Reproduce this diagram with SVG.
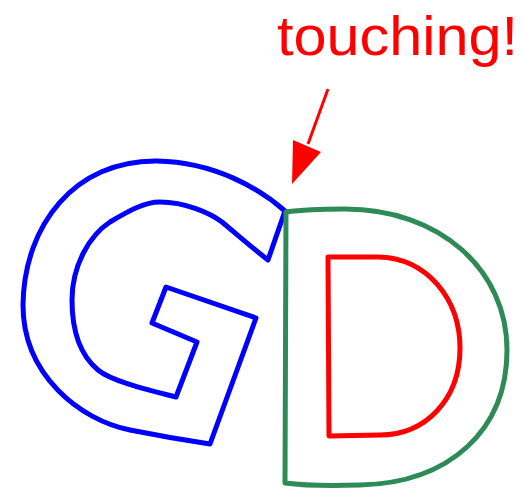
<svg xmlns="http://www.w3.org/2000/svg" width="524" height="489" viewBox="0 0 524 489">
<style>
.o{fill:none;stroke-width:5;stroke-linejoin:round;stroke-linecap:round}
.t{font-family:"Liberation Sans","DejaVu Sans",sans-serif;font-size:56px;fill:#ff0000}
</style>
<rect width="524" height="489" fill="#fff"/>
<g id="G">
<path class="o" stroke="#0000ff" d="M285,211 C260,189 215,162 157,161 C75,160 24,225 23,305 C23,375 80,420 130,430 C160,436 190,441 210,444 L256,318 L166,287 L152,323 L197,342 L176,397 C140,388 110,380 98,370 C80,355 72,330 72,300 C72,265 90,235 110,222 C130,210 145,202 160,202 C185,202 210,213 222,222 C240,237 255,250 268,260 Z"/>
</g>
<g id="D">
<path class="o" stroke="#2e8b57" d="M286,212 C300,210 320,209 345,209 C440,209 507,270 507,350 C507,430 450,483 360,485 C330,486 300,485 285,483 Z"/>
</g>
<g id="Dinner">
<path class="o" stroke="#ff0000" d="M328,257 L378,257 C428,258 460,300 460,348 C460,400 425,435 380,435 L329,436 Z"/>
</g>
<g id="label">
<text class="t" x="277" y="55" textLength="241" lengthAdjust="spacingAndGlyphs">touching!</text>
</g>
<g id="connectors">
<line x1="328" y1="89" x2="308" y2="144" stroke="#ff0000" stroke-width="3"/>
<polygon points="292,184 293,140 321,152" fill="#ff0000"/>
</g>
</svg>
